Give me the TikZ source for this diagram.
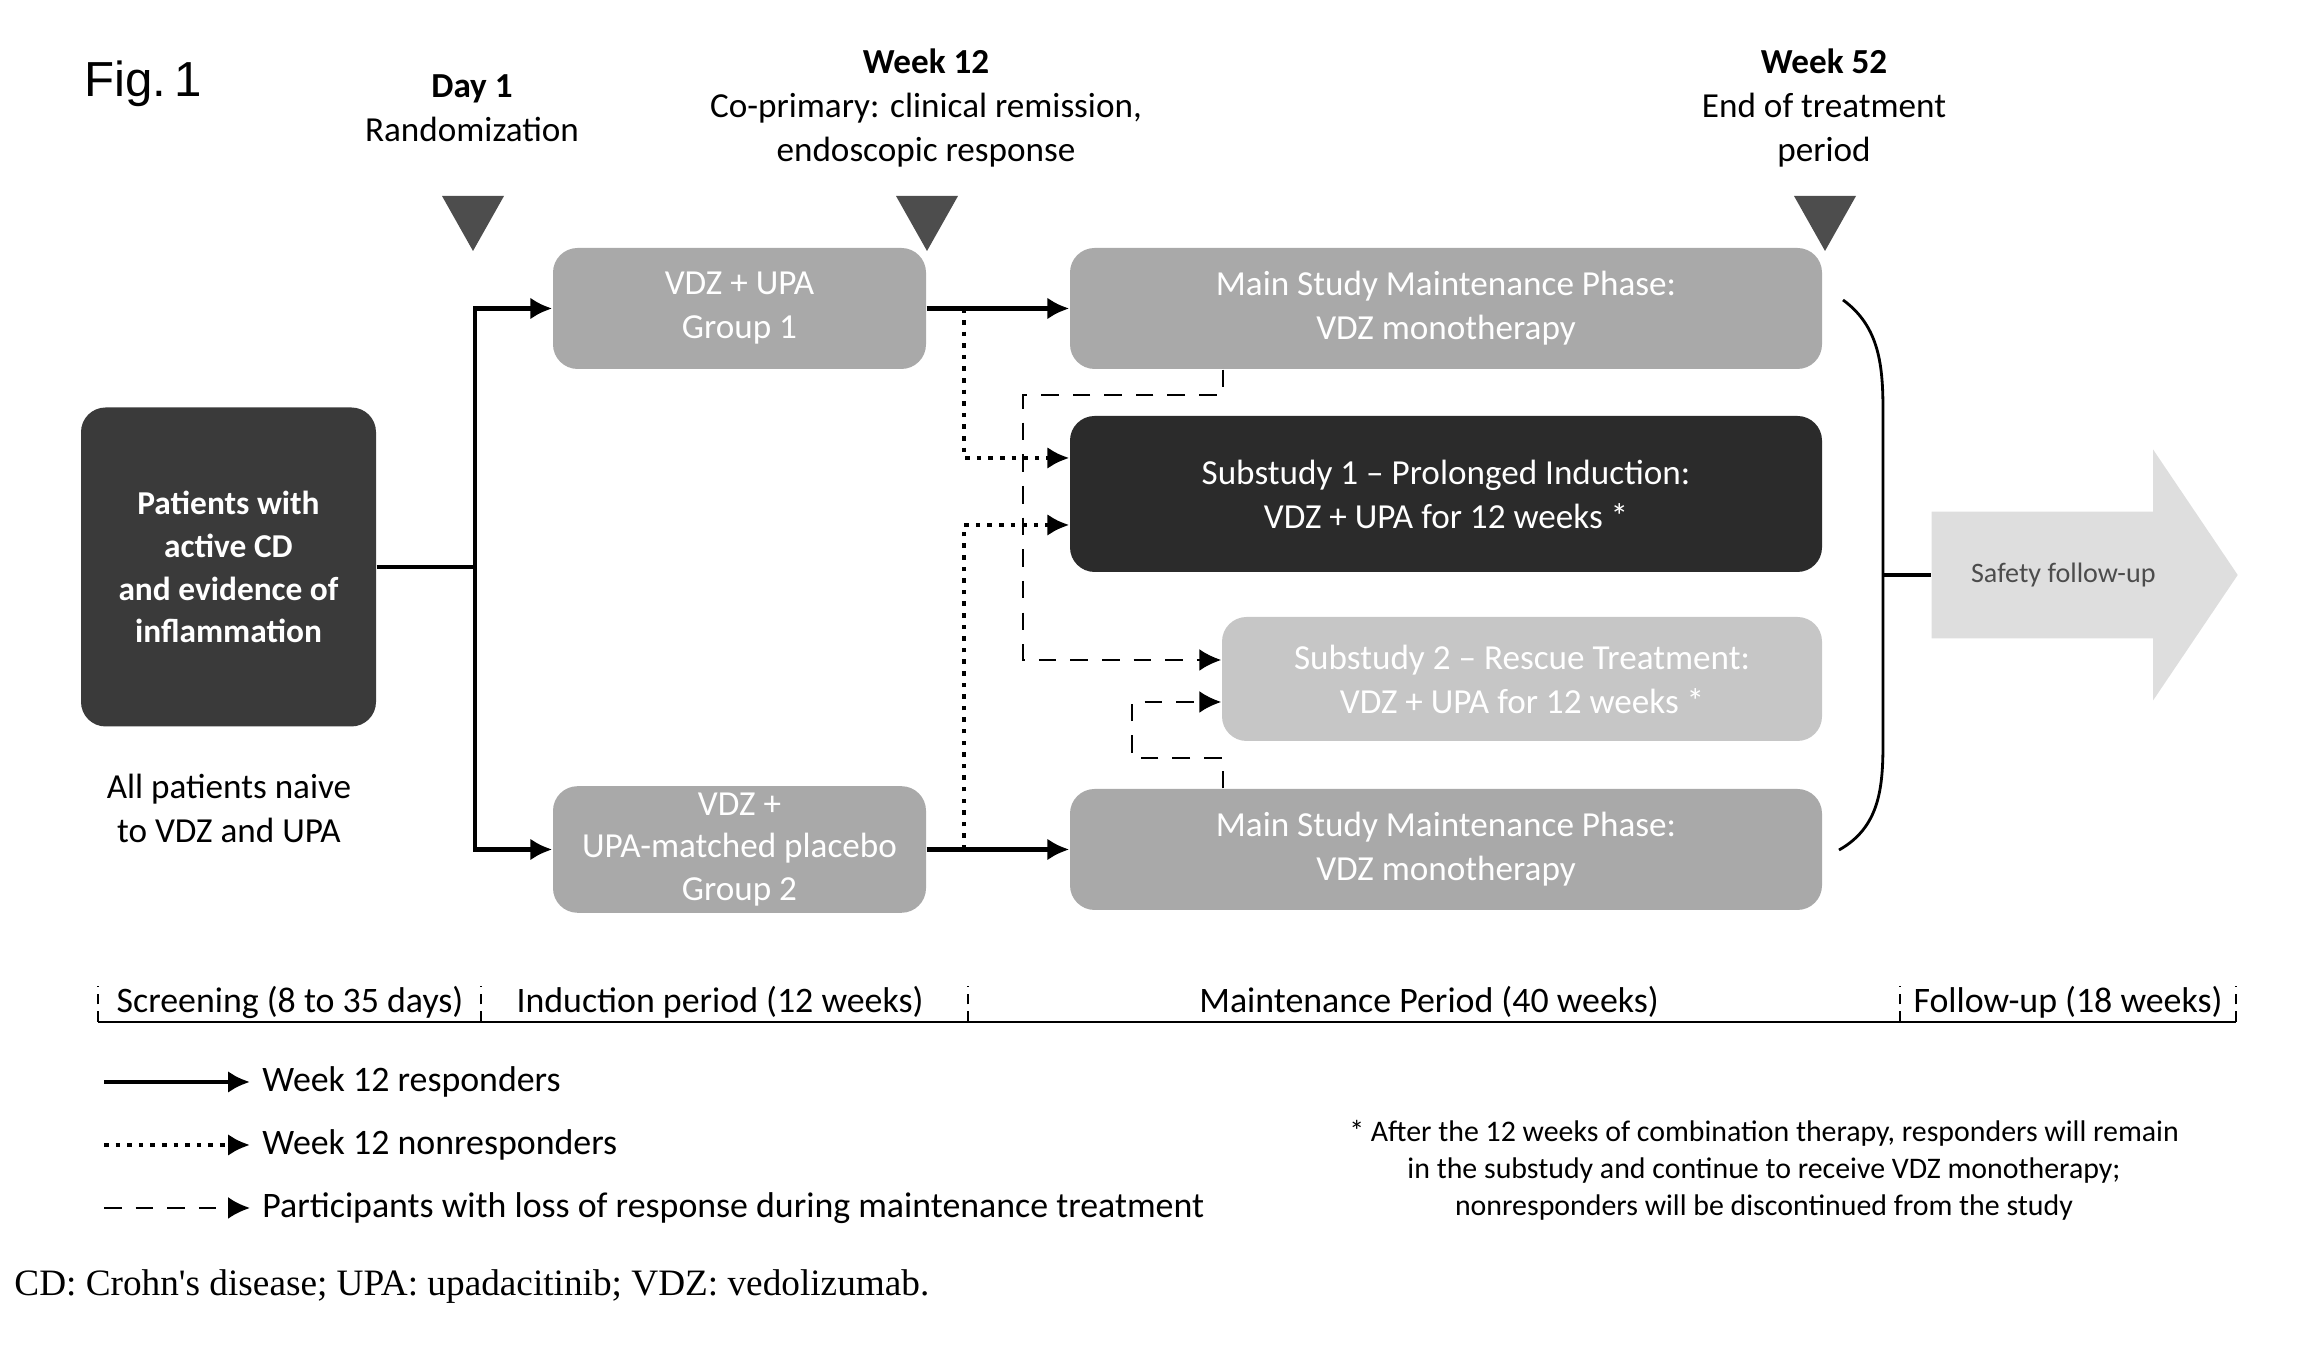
\documentclass[tikz,border=0pt]{standalone}
\usepackage{fontspec}
\setmainfont{Carlito}
\newfontfamily\figfont{Liberation Sans}
\newfontfamily\capfont{Liberation Serif}
\usepackage{tikz}
\usetikzlibrary{arrows.meta,shapes.arrows}
\definecolor{patfill}{HTML}{3A3A3A}
\definecolor{subfill}{HTML}{2B2B2B}
\definecolor{armfill}{HTML}{A9A9A9}
\definecolor{rescuefill}{HTML}{C6C6C6}
\definecolor{safefill}{HTML}{DEDEDE}
\definecolor{tickfill}{HTML}{4D4D4D}

\begin{document}
\begin{tikzpicture}[>={Latex[length=2.2mm,width=2.2mm]},
	every node/.style={font=\fontsize{10}{12.5}\selectfont},
	armbox/.style={rounded corners=7pt, fill=armfill, text=white, align=center, inner sep=2pt},
	resp/.style={line width=1.3pt},
	nonresp/.style={line width=1.3pt, dotted},
	loss/.style={line width=0.8pt, dash pattern=on 5pt off 4pt},
	period/.style={font=\fontsize{10.2}{12}\selectfont}]
	\useasboundingbox (0,0) rectangle (23.12,13.72);
	\node[font=\figfont\fontsize{14}{16}\selectfont] (fig) at (1.43,12.88) {Fig.\,1};
	\node[align=center] (day1) at (4.72,12.64) {\textbf{Day 1}\\Randomization};
	\node[align=center] (wk12) at (9.26,12.64) {\textbf{Week 12}\\Co-primary: clinical remission,\\endoscopic response};
	\node[align=center] (wk52) at (18.24,12.64) {\textbf{Week 52}\\End of treatment\\period};
	\foreach \x in {4.73,9.27,18.25} {\fill[tickfill] ({\x-0.31},11.76) -- ({\x+0.31},11.76) -- (\x,11.21) -- cycle;}
	\node[armbox, fill=patfill, minimum width=2.95cm, minimum height=3.19cm, font=\bfseries\fontsize{9.5}{12.2}\selectfont] (pat) at (2.285,8.05) {Patients with\\active CD\\and evidence of\\inflammation};
	\node[align=center] (naive) at (2.29,5.64) {All patients naive\\to VDZ and UPA};
	\node[armbox, minimum width=3.73cm, minimum height=1.21cm] (g1) at (7.395,10.635) {VDZ + UPA\\Group 1};
	\node[armbox, minimum width=3.73cm, minimum height=1.21cm, font=\fontsize{10}{12}\selectfont] (g2) at (7.395,5.225) {VDZ +\\UPA-matched placebo\\Group 2};
	\node[armbox, minimum width=7.52cm, minimum height=1.21cm] (mt) at (14.46,10.635) {Main Study Maintenance Phase:\\VDZ monotherapy};
	\node[armbox, fill=subfill, minimum width=7.52cm, minimum height=1.56cm] (s1) at (14.46,8.78) {Substudy 1 – Prolonged Induction:\\VDZ + UPA for 12 weeks *};
	\node[armbox, fill=rescuefill, minimum width=6.0cm, minimum height=1.24cm] (s2) at (15.22,6.93) {Substudy 2 – Rescue Treatment:\\VDZ + UPA for 12 weeks *};
	\node[armbox, minimum width=7.52cm, minimum height=1.21cm] (mb) at (14.46,5.225) {Main Study Maintenance Phase:\\VDZ monotherapy};
	\node[single arrow, fill=safefill, text=black!70, minimum height=3.06cm, minimum width=2.51cm, single arrow head extend=0.615cm, single arrow tip angle=112, inner xsep=2pt, inner ysep=0.5cm, font=\fontsize{8}{10}\selectfont, anchor=tail] (safe) at (19.31,7.97) {Safety follow-up};
	\coordinate (split) at (4.75,8.05);
	\draw[resp] (pat.east) -- (split);
	\draw[resp,->] (split) |- (g1.west);
	\draw[resp,->] (split) |- (g2.west);
	\draw[resp,->] (g1.east) -- (mt.west);
	\draw[resp,->] (g2.east) -- (mb.west);
	\coordinate (nr1) at (9.64,10.635);
	\coordinate (nr2) at (9.64,5.225);
	\draw[nonresp,->] (nr1) |- ([yshift=3.6mm]s1.west);
	\draw[nonresp,->] (nr2) |- ([yshift=-3.1mm]s1.west);
	\draw[loss,->] ([xshift=-2.23cm]mt.south) |- (10.23,9.77) |- ([yshift=1.9mm]s2.west);
	\draw[loss,->] ([xshift=-2.23cm]mb.north) |- (11.32,6.14) |- ([yshift=-2.3mm]s2.west);
	\draw[line width=0.8pt] (18.43,10.72) .. controls (18.80,10.45) and (18.83,10.05) .. (18.83,9.6) -- (18.83,6.3) .. controls (18.83,5.85) and (18.80,5.45) .. (18.39,5.22);
	\coordinate (brk) at (18.83,7.97);
	\draw[line width=1pt] (brk) -- (safe.tail);
	% timeline
	\draw[thin] (0.98,3.50) -- (22.36,3.50);
	\foreach \x in {0.98,4.81,9.68,19.00,22.36} {\draw[thin, densely dashed] (\x,3.50) -- (\x,3.86);}
	\node[period] (scr) at (2.90,3.70) {Screening (8 to 35 days)};
	\node[period] (ind) at (7.20,3.70) {Induction period (12 weeks)};
	\node[period] (mnt) at (14.29,3.70) {Maintenance Period (40 weeks)};
	\node[period] (fup) at (20.68,3.70) {Follow-up (18 weeks)};
	% legend
	\node[anchor=west, font=\fontsize{10.2}{12}\selectfont] (lg1) at (2.50,2.90) {Week 12 responders};
	\node[anchor=west, font=\fontsize{10.2}{12}\selectfont] (lg2) at (2.50,2.27) {Week 12 nonresponders};
	\node[anchor=west, font=\fontsize{10.2}{12}\selectfont] (lg3) at (2.50,1.64) {Participants with loss of response during maintenance treatment};
	\coordinate (ls1) at (1.04,2.90);
	\coordinate (ls2) at (1.04,2.27);
	\coordinate (ls3) at (1.04,1.64);
	\draw[resp,->] (ls1) -- (lg1.west);
	\draw[nonresp,->] (ls2) -- (lg2.west);
	\draw[loss,->] (ls3) -- (lg3.west);
	\node[align=center, font=\fontsize{8.5}{10.5}\selectfont] (note) at (17.64,2.02) {* After the 12 weeks of combination therapy, responders will remain\\in the substudy and continue to receive VDZ monotherapy;\\nonresponders will be discontinued from the study};
	\node[anchor=west, font=\capfont\fontsize{10.6}{12.6}\selectfont] (cap) at (0.02,0.85) {CD: Crohn's disease; UPA: upadacitinib; VDZ: vedolizumab.};
\end{tikzpicture}
\end{document}
